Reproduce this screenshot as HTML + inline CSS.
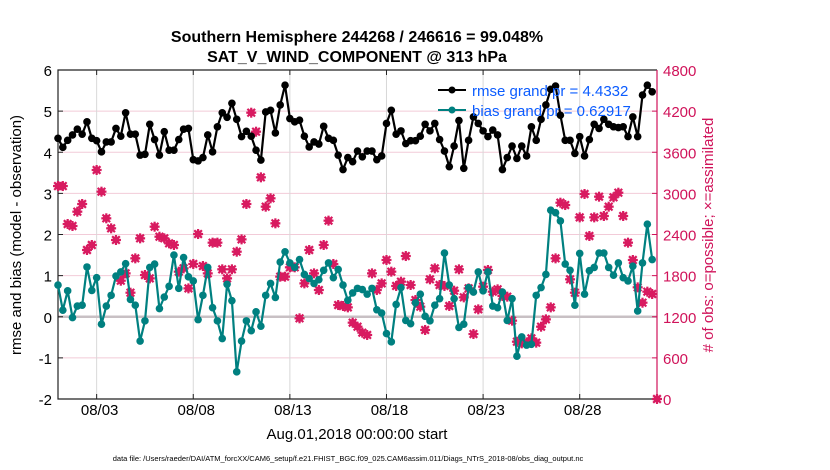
<!DOCTYPE html>
<html><head><meta charset="utf-8">
<style>
body{margin:0;background:#fff;}
svg{display:block;font-family:"Liberation Sans",Arial,sans-serif;}
</style></head>
<body>
<svg id="chart" width="830" height="470" viewBox="0 0 830 470" xmlns="http://www.w3.org/2000/svg">
<rect x="0" y="0" width="830" height="470" fill="#fff"/>
<text x="357" y="42" font-size="16" font-weight="bold" text-anchor="middle">Southern Hemisphere 244268 / 246616 = 99.048%</text>
<text x="357" y="62" font-size="16" font-weight="bold" text-anchor="middle">SAT_V_WIND_COMPONENT @ 313 hPa</text>
<g id="grid"></g>
<g id="axes"></g>
<g id="marks"></g>
<g id="legend">
  <line x1="438" y1="90" x2="466" y2="90" stroke="#000" stroke-width="2"/>
  <circle cx="452" cy="90" r="3.5" fill="#000"/>
  <text x="472" y="96" font-size="15" fill="#0b5cff">rmse grand pr = 4.4332</text>
  <line x1="438" y1="110" x2="466" y2="110" stroke="#008080" stroke-width="2"/>
  <circle cx="452" cy="110" r="3.5" fill="#008080"/>
  <text x="472" y="116" font-size="15" fill="#0b5cff">bias grand pr = 0.62917</text>
</g>
<text transform="translate(21,235) rotate(-90)" font-size="15" text-anchor="middle">rmse and bias (model - observation)</text>
<text transform="translate(713,235) rotate(-90)" font-size="15" text-anchor="middle" fill="#d0135a"># of obs: o=possible; ×=assimilated</text>
<text x="357" y="439" font-size="15" text-anchor="middle">Aug.01,2018 00:00:00 start</text>
<text x="348" y="461" font-size="7.5" text-anchor="middle">data file: /Users/raeder/DAI/ATM_forcXX/CAM6_setup/f.e21.FHIST_BGC.f09_025.CAM6assim.011/Diags_NTrS_2018-08/obs_diag_output.nc</text>
</svg>
<script>
const rmse = [4.34,4.12,4.29,4.42,4.56,4.44,4.74,4.34,4.28,4.01,4.25,4.25,4.58,4.39,4.96,4.44,4.44,3.93,3.95,4.68,4.31,3.93,4.50,4.05,4.05,4.31,4.56,4.58,3.82,3.79,3.87,
4.42,4.01,4.62,4.96,4.85,5.19,4.80,4.38,4.51,4.39,4.05,3.81,4.98,5.02,4.47,5.15,5.63,4.82,4.74,4.78,4.39,4.13,4.25,4.20,4.63,4.34,4.29,3.93,3.58,3.87,3.77,4.03,
3.89,4.03,4.03,3.82,3.91,4.70,5.02,4.44,4.52,4.21,4.28,4.28,4.39,4.68,4.52,4.70,4.31,4.03,3.65,4.15,4.77,3.61,4.29,4.86,4.70,4.52,4.38,4.54,4.42,3.58,3.87,4.15,
3.85,4.15,3.91,4.62,4.29,4.80,5.15,5.53,5.61,4.90,4.29,4.29,3.97,4.38,3.91,4.31,4.68,4.58,4.80,4.68,4.62,4.60,4.62,4.38,4.86,4.38,5.39,5.63,5.47];
const bias = [0.77,0.16,0.63,-0.02,0.26,0.28,1.21,0.64,0.95,-0.18,0.26,0.52,0.99,1.09,1.29,0.42,0.28,-0.59,-0.10,1.20,1.28,0.20,0.48,0.74,1.50,0.69,1.44,0.97,0.87,-0.07,0.52,
1.20,0.22,-0.10,-0.53,0.79,0.39,-1.34,-0.59,-0.10,-0.34,0.12,-0.23,0.52,0.81,0.47,1.33,1.58,1.31,1.20,1.39,1.03,0.93,0.81,0.90,1.13,1.31,0.95,1.15,0.77,0.40,0.58,0.69,0.66,
0.55,0.69,0.17,0.09,-0.41,-0.61,0.30,0.71,-0.09,-0.17,0.34,0.55,0.01,-0.10,0.28,0.44,1.55,0.77,0.44,-0.26,-0.18,0.71,0.60,1.09,0.63,1.09,0.26,0.22,0.60,-0.09,0.44,
-0.96,-0.49,-0.69,-0.67,0.52,0.71,1.03,2.59,2.53,2.33,1.28,1.13,0.28,1.54,0.55,1.12,1.20,1.55,1.55,1.20,1.01,1.31,0.95,0.87,1.23,0.14,1.31,2.25,1.39];
const nobs = [3107,3107,2553,2524,2733,2845,2174,2247,3341,3025,2636,2490,2320,1726,1833,1551,2052,2344,1809,1760,2514,2368,2344,2271,2247,1858,1906,1614,1970,2407,1940,
1833,2281,2281,1892,1760,1892,2149,2329,2845,4177,3900,3234,2806,2928,2563,1785,1785,1921,1921,1177,1687,2174,1833,1590,2247,2602,1970,1371,1357,1337,1114,1055,
968,934,1833,1590,1687,2028,1858,1649,1712,2086,1663,1444,1347,1007,1746,1906,1663,1649,1357,1580,1892,1483,1614,948,1308,1639,1882,1566,1600,1503,1493,1143,
836,812,822,885,822,1055,1162,1337,2052,2864,2830,1746,1551,2650,2991,2378,2650,2952,2670,2806,2942,3010,2670,2281,2028,1629,1405,1566,1532,0];
const leftTicks = [6,5,4,3,2,1,0,-1,-2];
const rightTicks = [4800,4200,3600,3000,2400,1800,1200,600,0];
const dateTicks = [2,7,12,17,22,27];
const dateLabels = ["08/03","08/08","08/13","08/18","08/23","08/28"];

const NS="http://www.w3.org/2000/svg";
const X0=58, X1=657, Y0=70, Y1=399, DAYS=31;
const xs = d => X0 + d/DAYS*(X1-X0);
const yL = v => Y1 - (v+2)/8*(Y1-Y0);
const yR = v => Y1 - v/4800*(Y1-Y0);
const slot = i => i*0.25;
function mk(tag, attrs, parent){const e=document.createElementNS(NS,tag);for(const k in attrs)e.setAttribute(k,attrs[k]);parent.appendChild(e);return e;}
const grid=document.getElementById('grid'), axes=document.getElementById('axes'), marks=document.getElementById('marks');

leftTicks.forEach(v=>{
  const y=yL(v);
  if(v>-2&&v<6){const g=mk('line',{x1:X0,x2:X1,y1:y,y2:y,stroke:'#f2cbd8','stroke-width':1},grid);
  
  }
  const t=mk('text',{x:X0-6,y:y+6,'font-size':15,'text-anchor':'end'},axes);t.textContent=v;
  
  
  mk('line',{x1:X0,x2:X0+5,y1:y,y2:y,stroke:'#222'},axes);
});
rightTicks.forEach(v=>{
  const y=yR(v);
  const t=mk('text',{x:X1+6,y:y+6,'font-size':15,fill:'#d0135a'},axes);t.textContent=v;
  
  
  mk('line',{x1:X1-5,x2:X1,y1:y,y2:y,stroke:'#d0135a'},axes);
});
dateTicks.forEach((d,i)=>{
  const x=xs(d);
  const g=mk('line',{x1:x,x2:x,y1:Y0,y2:Y1,stroke:'#d8d8d8','stroke-width':1},grid);
  
  
  mk('line',{x1:x,x2:x,y1:Y1-5,y2:Y1,stroke:'#222'},axes);
  mk('line',{x1:x,x2:x,y1:Y0,y2:Y0+5,stroke:'#222'},axes);
  const t=mk('text',{x:x+3,y:415,'font-size':15,'text-anchor':'middle'},axes);t.textContent=dateLabels[i];
  
  
});
const z=mk('line',{x1:X0,x2:X1,y1:yL(0),y2:yL(0),stroke:'#c8c0c4','stroke-width':2.5},grid);


const fr=mk('path',{d:`M${X1},${Y0}H${X0}V${Y1}H${X1}`,fill:'none',stroke:'#222','stroke-width':1.2},axes);


const ra=mk('line',{x1:X1,x2:X1,y1:Y0,y2:Y1,stroke:'#d0135a','stroke-width':1.2},axes);



nobs.forEach((v,i)=>{
  const x=xs(slot(i)), y=yR(v);
  const g=mk('g',{stroke:'#d81b60','stroke-width':2.2,fill:'#d81b60'},marks);
  
  
  mk('circle',{cx:x,cy:y,r:3.6,stroke:'none'},g);
  mk('line',{x1:x-5,x2:x+5,y1:y,y2:y},g);
  mk('line',{x1:x,x2:x,y1:y-5,y2:y+5},g);
  mk('line',{x1:x-3.8,x2:x+3.8,y1:y-3.8,y2:y+3.8},g);
  mk('line',{x1:x-3.8,x2:x+3.8,y1:y+3.8,y2:y-3.8},g);
});
function series(arr,color,name){
  const d=arr.map((v,i)=>(i?'L':'M')+xs(slot(i)).toFixed(1)+','+yL(v).toFixed(1)).join('');
  const p=mk('path',{d,fill:'none',stroke:color,'stroke-width':2.2,'stroke-linejoin':'round'},marks);
  
  
  arr.forEach((v,i)=>{
    const c=mk('circle',{cx:xs(slot(i)),cy:yL(v),r:3.8,fill:color},marks);
    
    
  });
}
series(bias,'#008080','bias');
series(rmse,'#000','rmse');
</script>
</body></html>
